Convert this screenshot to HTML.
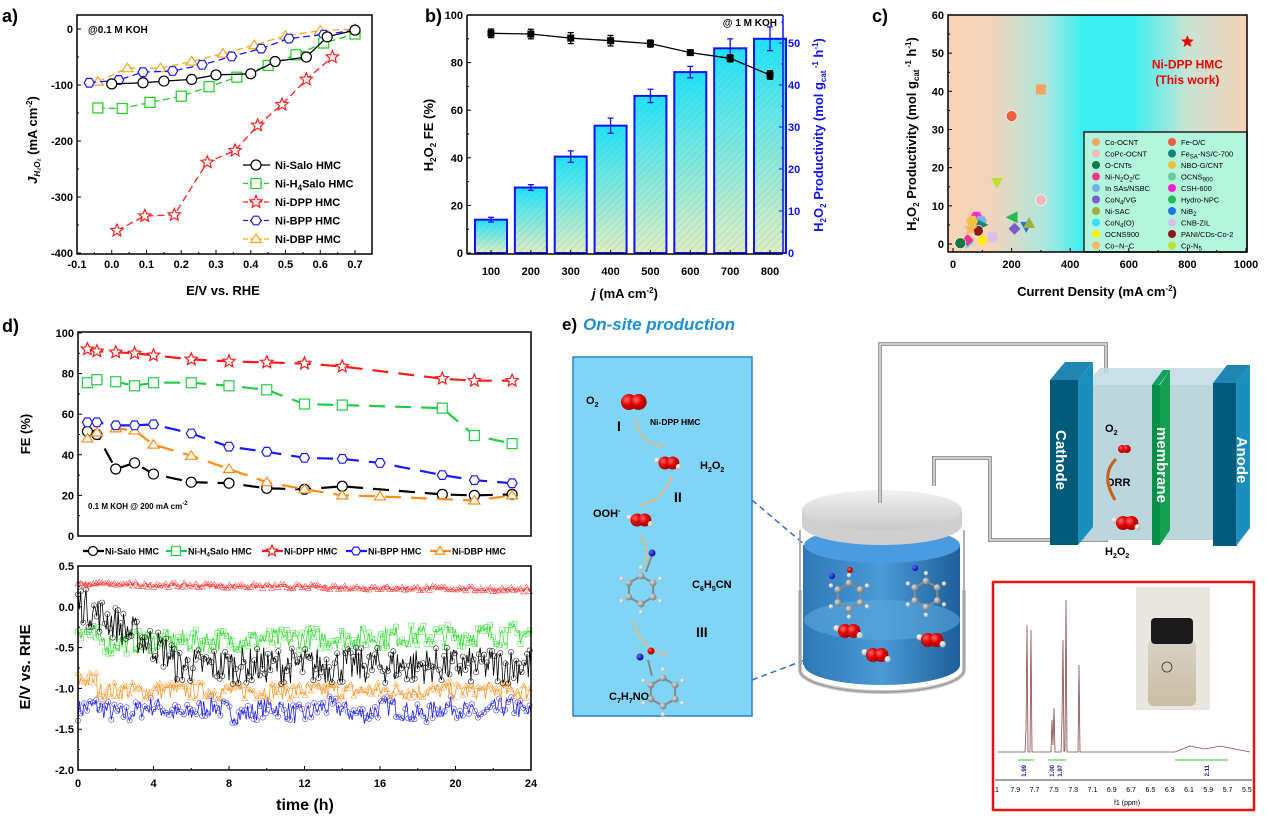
<!DOCTYPE html>
<html><head><meta charset="utf-8"><style>
html,body{margin:0;padding:0;background:#fff}
svg{display:block;font-family:"Liberation Sans",Arial,sans-serif}
.t{font-weight:bold;font-size:11px}
.lab{font-weight:bold;font-size:13px}
.pl{font-weight:bold;font-size:18px}
</style></head><body>
<svg id="s" width="1269" height="818" viewBox="0 0 1269 818" xmlns="http://www.w3.org/2000/svg">
<defs>
<linearGradient id="bg" x1="0" y1="0" x2="0" y2="1"><stop offset="0" stop-color="#1fe3f7"/><stop offset="1" stop-color="#e0eec0"/></linearGradient>
<pattern id="hatch" width="5" height="5" patternUnits="userSpaceOnUse" patternTransform="rotate(45)"><line x1="0" y1="0" x2="0" y2="5" stroke="#5a8fd0" stroke-width="0.6" opacity="0.6"/></pattern>
<linearGradient id="cg" x1="0" y1="0" x2="1" y2="0"><stop offset="0" stop-color="#f7d2b6"/><stop offset="0.15" stop-color="#f2d4bc"/><stop offset="0.33" stop-color="#a8e8e0"/><stop offset="0.45" stop-color="#3cf0f2"/><stop offset="0.62" stop-color="#3cf0f2"/><stop offset="0.8" stop-color="#c8e4d4"/><stop offset="1" stop-color="#f7d2b6"/></linearGradient>
<radialGradient id="ox" cx="0.35" cy="0.35" r="0.7"><stop offset="0" stop-color="#ff6a6a"/><stop offset="0.5" stop-color="#e00000"/><stop offset="1" stop-color="#900"/></radialGradient>
<radialGradient id="hy" cx="0.35" cy="0.35" r="0.7"><stop offset="0" stop-color="#fff"/><stop offset="1" stop-color="#aaa"/></radialGradient>
<radialGradient id="cb" cx="0.35" cy="0.35" r="0.7"><stop offset="0" stop-color="#ddd"/><stop offset="1" stop-color="#777"/></radialGradient>
<radialGradient id="nb" cx="0.35" cy="0.35" r="0.7"><stop offset="0" stop-color="#66f"/><stop offset="1" stop-color="#009"/></radialGradient>
<linearGradient id="wat" x1="0" y1="0" x2="1" y2="0"><stop offset="0" stop-color="#2f78b8"/><stop offset="0.5" stop-color="#4a9ad6"/><stop offset="1" stop-color="#1d5f9a"/></linearGradient>
<linearGradient id="lid" x1="0" y1="0" x2="0" y2="1"><stop offset="0" stop-color="#f2f2f2"/><stop offset="1" stop-color="#c8c8c8"/></linearGradient>
<linearGradient id="vial" x1="0" y1="0" x2="0" y2="1"><stop offset="0" stop-color="#d8d2c6"/><stop offset="1" stop-color="#c9bda2"/></linearGradient>
</defs>
<g id="root"></g>
</svg>
<script>
var S='';
function a(x){S+=x;}
function T(x,y,txt,o){o=o||{};a('<text x="'+x+'" y="'+y+'"'+(o.a?' text-anchor="'+o.a+'"':'')+(o.c?' class="'+o.c+'"':' class="t"')+(o.f?' fill="'+o.f+'"':'')+(o.s?' style="'+o.s+'"':'')+(o.r?' transform="rotate('+o.r+' '+x+' '+y+')"':'')+'>'+txt+'</text>');}
function L(x1,y1,x2,y2,c,w,d){a('<line x1="'+x1+'" y1="'+y1+'" x2="'+x2+'" y2="'+y2+'" stroke="'+(c||'#000')+'" stroke-width="'+(w||1)+'"'+(d?' stroke-dasharray="'+d+'"':'')+'/>');}
function R(x,y,w,h,f,s,sw){a('<rect x="'+x+'" y="'+y+'" width="'+w+'" height="'+h+'" fill="'+(f||'none')+'" stroke="'+(s||'none')+'" stroke-width="'+(sw||1)+'"/>');}
function poly(pts,c,w,d,f){a('<polyline points="'+pts.map(function(p){return p[0].toFixed(1)+','+p[1].toFixed(1)}).join(' ')+'" fill="'+(f||'none')+'" stroke="'+c+'" stroke-width="'+(w||1)+'"'+(d?' stroke-dasharray="'+d+'"':'')+'/>');}
function star(x,y,r,c,f){var p=[];for(var i=0;i<10;i++){var rr=i%2?r*0.45:r,an=-Math.PI/2+i*Math.PI/5;p.push([x+rr*Math.cos(an),y+rr*Math.sin(an)]);}a('<polygon points="'+p.map(function(q){return q[0].toFixed(1)+','+q[1].toFixed(1)}).join(' ')+'" fill="'+(f||'#fff')+'" stroke="'+c+'" stroke-width="1.2"/>');}
function hex(x,y,r,c){var p=[];for(var i=0;i<6;i++){var an=i*Math.PI/3;p.push([x+r*Math.cos(an),y+r*Math.sin(an)]);}a('<polygon points="'+p.map(function(q){return q[0].toFixed(1)+','+q[1].toFixed(1)}).join(' ')+'" fill="#fff" stroke="'+c+'" stroke-width="1.2"/>');}
function tri(x,y,r,c,f){a('<polygon points="'+x+','+(y-r)+' '+(x+r*1.1)+','+(y+r*0.7)+' '+(x-r*1.1)+','+(y+r*0.7)+'" fill="'+(f||'#fff')+'" stroke="'+c+'" stroke-width="1.2"/>');}
function mk(type,x,y,r,c){if(type=='o')a('<circle cx="'+x+'" cy="'+y+'" r="'+r+'" fill="#fff" stroke="'+c+'" stroke-width="1.2"/>');else if(type=='s')R(x-r,y-r,2*r,2*r,'#fff',c,1.2);else if(type=='*')star(x,y,r*1.3,c);else if(type=='h')hex(x,y,r,c);else tri(x,y,r,c);}
var SER=[['o','#000','6,3'],['s','#22cc22','6,3'],['*','#ff2020','6,3'],['h','#1a1aff','6,3'],['t','#f5a623','6,3']];

/* ===== Panel a ===== */
function ax(E){return 77+(E+0.1)*347.5;} function ay(J){return 29-J*0.56;}
var A=[
[[0,-98],[0.09,-96],[0.15,-93],[0.23,-90],[0.30,-82],[0.40,-80],[0.47,-58],[0.56,-50],[0.62,-14],[0.70,-2]],
[[-0.04,-141],[0.03,-142],[0.11,-131],[0.20,-120],[0.28,-103],[0.36,-86],[0.45,-65],[0.53,-46],[0.61,-25],[0.70,-9]],
[[0.015,-360],[0.095,-334],[0.18,-332],[0.275,-238],[0.355,-217],[0.42,-172],[0.49,-135],[0.56,-90],[0.635,-50]],
[[-0.065,-96],[0.02,-91],[0.09,-77],[0.175,-75],[0.26,-64],[0.345,-49],[0.43,-35],[0.51,-17],[0.61,-10],[0.70,-2]],
[[-0.04,-94],[0.045,-70],[0.14,-70],[0.23,-58],[0.32,-44],[0.41,-29],[0.50,-12],[0.60,-3],[0.70,0]]];
[4,3,1,0,2].forEach(function(k){var pts=A[k].map(function(p){return [ax(p[0]),ay(p[1])]});poly(pts,SER[k][1],1.3,k==0?null:'7,4');pts.forEach(function(p){mk(SER[k][0],p[0],p[1],5,SER[k][1]);});});
R(77,15,295,239,'none','#000',1.5);
for(var i=0;i<=8;i++){var x=ax(-0.1+i*0.1);L(x,254,x,250);T(x,268,(i==1?'0.0':(-0.1+i*0.1).toFixed(1)),{a:'middle'});if(i<8)L(x+17.4,254,x+17.4,252);}
for(var v=0;v>=-400;v-=100){var y=ay(v);L(77,y,81,y);T(73,y+4,v,{a:'end'});if(v>-400)L(77,y+28,79,y+28);}
T(223,295,'E/V vs. RHE',{a:'middle',c:'lab'});
a('<text transform="translate(37,140) rotate(-90)" text-anchor="middle" class="lab"><tspan font-style="italic">J</tspan><tspan font-size="8" dy="3" font-style="italic">H₂O₂</tspan><tspan dy="-3"> (mA cm</tspan><tspan font-size="8" dy="-5">-2</tspan><tspan dy="5">)</tspan></text>');
T(88,33,'@0.1 M KOH',{s:'font-size:10px'});
var la=['Ni-Salo HMC','Ni-H<tspan font-size="8" dy="3">4</tspan><tspan dy="-3">Salo HMC</tspan>','Ni-DPP HMC','Ni-BPP HMC','Ni-DBP HMC'];
for(var k=0;k<5;k++){var y=165+k*18.5;L(243,y,270,y,SER[k][1],1.3,k?'5,2':null);mk(SER[k][0],256,y,5,SER[k][1]);T(275,y+4,la[k]);}
T(2,22,'a)',{c:'pl'});

/* ===== Panel b ===== */
function bx(j){return 491+(j-100)*0.3986;} function by(f){return 253-f*2.38;}
var bars=[14,27.5,40.5,53.5,66,76,86,90],be=[0.5,0.6,1.2,1.6,1.4,1.2,2,2.5];
var fe=[92.3,92,90.3,89.2,88,84.2,81.8,74.8],fee=[1.8,2,2.3,2.2,1.5,1,1.5,1.8];
for(var i=0;i<8;i++){var x=bx(100+i*100),y=by(bars[i]);a('<rect x="'+(x-16)+'" y="'+y+'" width="32" height="'+(253-y)+'" fill="url(#bg)" stroke="#1010ff" stroke-width="2"/>');a('<rect x="'+(x-15)+'" y="'+y+'" width="30" height="'+(253-y)+'" fill="url(#hatch)"/>');var e=be[i]*2.38*2;L(x,y-e,x,y+e,'#1010ff',1.3);L(x-3,y-e,x+3,y-e,'#1010ff',1.3);L(x-3,y+e,x+3,y+e,'#1010ff',1.3);}
poly(fe.map(function(f,i){return [bx(100+i*100),by(f)]}),'#000',1.3);
for(var i=0;i<8;i++){var x=bx(100+i*100),y=by(fe[i]),e=fee[i]*2.38;L(x,y-e,x,y+e,'#000',1.3);L(x-3,y-e,x+3,y-e,'#000',1.3);L(x-3,y+e,x+3,y+e,'#000',1.3);R(x-3.5,y-3.5,7,7,'#000');}
L(467,15,467,254,'#000',1.5);L(467,254,783,254,'#000',1.5);L(467,15,783,15,'#000',1.5);L(783,15,783,254,'#1010ff',1.5);
for(var f=0;f<=100;f+=20){var y=by(f);L(467,y,471,y);T(463,y+4,f,{a:'end'});if(f<100)L(467,y-23.8,469,y-23.8);}
for(var i=0;i<8;i++){var x=bx(100+i*100);L(x,254,x,250);T(x,275,100+i*100,{a:'middle'});}
for(var p=0;p<=50;p+=10){var y=253-p*4.2;L(783,y,779,y,'#1010ff');T(788,y+4,p,{f:'#1010ff'});if(p<55)L(783,y-21,781,y-21,'#1010ff');}
T(625,298,'<tspan font-style="italic">j</tspan> (mA cm<tspan font-size="8" dy="-5">-2</tspan><tspan dy="5">)</tspan>',{a:'middle',c:'lab'});
a('<text transform="translate(433,135) rotate(-90)" text-anchor="middle" class="lab">H<tspan font-size="8" dy="3">2</tspan><tspan dy="-3">O</tspan><tspan font-size="8" dy="3">2</tspan><tspan dy="-3"> FE (%)</tspan></text>');
a('<text transform="translate(823,135) rotate(-90)" text-anchor="middle" class="lab" fill="#1010ff">H<tspan font-size="8" dy="3">2</tspan><tspan dy="-3">O</tspan><tspan font-size="8" dy="3">2</tspan><tspan dy="-3"> Productivity (mol g</tspan><tspan font-size="8" dy="3">cat</tspan><tspan font-size="8" dy="-8"> -1</tspan><tspan dy="5"> h</tspan><tspan font-size="8" dy="-5">-1</tspan><tspan dy="5">)</tspan></text>');
T(777,26,'@ 1 M KOH',{a:'end',s:'font-size:10px'});
T(425,22,'b)',{c:'pl'});

/* ===== Panel c ===== */
function cx(v){return 953+v*0.293;} function cy(p){return 244-p*3.817;}
R(948,15,299,237,'url(#cg)');
R(1084,132,163,120,'#b2f5dc','#222',1.5);
var cp=[[300,40.5,'#f4a460','s'],[200,33.5,'#e8603c','o'],[300,11.5,'#f3b8b8','o'],[150,16,'#bde032','v'],[80,7,'#ff1fd0','h'],[95,6,'#7ab0e6','h'],[200,7,'#22bb55','<'],[210,4,'#7b5cc8','d'],[250,4.5,'#2277dd','v'],[260,5.5,'#a0b040','t'],[100,5,'#118877','>'],[85,3.5,'#8b1a1a','o'],[135,1.8,'#d8c0e8','h'],[100,1,'#ffee00','d'],[50,0.5,'#33e0ff','d'],[50,1,'#ff3388','d'],[25,0.2,'#117744','o'],[60,4,'#f4b860','*'],[65,6,'#f0c040','h']];
cp.forEach(function(p){var x=cx(p[0]),y=cy(p[1]),c=p[2];if(p[3]=='s')R(x-5,y-5,10,10,c);else if(p[3]=='o')a('<circle cx="'+x+'" cy="'+y+'" r="5.5" fill="'+c+'" stroke="#fff" stroke-width="0.6"/>');else if(p[3]=='v')a('<polygon points="'+(x-6)+','+(y-5)+' '+(x+6)+','+(y-5)+' '+x+','+(y+6)+'" fill="'+c+'"/>');else if(p[3]=='t')a('<polygon points="'+(x-6)+','+(y+5)+' '+(x+6)+','+(y+5)+' '+x+','+(y-6)+'" fill="'+c+'"/>');else if(p[3]=='<')a('<polygon points="'+(x+6)+','+(y-6)+' '+(x+6)+','+(y+6)+' '+(x-6)+','+y+'" fill="'+c+'"/>');else if(p[3]=='>')a('<polygon points="'+(x-6)+','+(y-6)+' '+(x-6)+','+(y+6)+' '+(x+6)+','+y+'" fill="'+c+'"/>');else if(p[3]=='d')a('<polygon points="'+x+','+(y-6)+' '+(x+6)+','+y+' '+x+','+(y+6)+' '+(x-6)+','+y+'" fill="'+c+'"/>');else if(p[3]=='h')hex(x,y,5.5,c),a('<circle cx="'+x+'" cy="'+y+'" r="4.5" fill="'+c+'"/>');else star(x,y,6,c,c);});
star(cx(800),cy(53),5,'#e00','#e00');
T(cx(800),cy(47)+4,'Ni-DPP HMC',{a:'middle',f:'#e00',s:'font-size:12px'});T(cx(800),cy(43)+4,'(This work)',{a:'middle',f:'#e00',s:'font-size:12px'});
var lc=[['Co-OCNT','#f4a460'],['Fe-O/C','#e8603c'],['CoPc-OCNT','#f3b8b8'],['Fe<tspan font-size="6" dy="2">SA</tspan><tspan dy="-2">-NS/C-700</tspan>','#118877'],['O-CNTs','#117744'],['NBO-G/CNT','#f0c040'],['Ni-N<tspan font-size="6" dy="2">2</tspan><tspan dy="-2">O</tspan><tspan font-size="6" dy="2">2</tspan><tspan dy="-2">/C</tspan>','#ff3388'],['OCNS<tspan font-size="6" dy="2">900</tspan>','#66cc99'],['In SAs/NSBC','#7ab0e6'],['CSH-600','#ff1fd0'],['CoN<tspan font-size="6" dy="2">4</tspan><tspan dy="-2">/VG</tspan>','#7b5cc8'],['Hydro-NPC','#22bb55'],['Ni-SAC','#a0b040'],['NiB<tspan font-size="6" dy="2">2</tspan>','#2277dd'],['CoN<tspan font-size="6" dy="2">4</tspan><tspan dy="-2">(O)</tspan>','#33e0ff'],['CNB-ZIL','#d8c0e8'],['OCNS900','#ffee00'],['PANI/CDs-Co-2','#8b1a1a'],['Co−N−C','#f4b860'],['Co-N<tspan font-size="6" dy="2">5</tspan>','#bde032']];
lc.forEach(function(l,i){var col=i%2,row=Math.floor(i/2),x=1096+col*76,y=142+row*11.5;a('<circle cx="'+x+'" cy="'+y+'" r="4" fill="'+l[1]+'"/>');T(x+9,y+3,l[0],{s:'font-size:7.5px;font-weight:normal'});});
R(948,15,299,237,'none','#000',1.5);
for(var p=0;p<=60;p+=10){var y=cy(p);L(948,y,952,y);T(944,y+4,p,{a:'end'});if(p<60)L(948,y-19,950,y-19);}
for(var v=0;v<=1000;v+=200){var x=cx(v);L(x,252,x,248);T(x,268,v,{a:'middle'});if(v<1000)L(x+29.3,252,x+29.3,250);}
T(1097,296,'Current Density (mA cm<tspan font-size="8" dy="-5">-2</tspan><tspan dy="5">)</tspan>',{a:'middle',c:'lab'});
a('<text transform="translate(916,134) rotate(-90)" text-anchor="middle" class="lab">H<tspan font-size="8" dy="3">2</tspan><tspan dy="-3">O</tspan><tspan font-size="8" dy="3">2</tspan><tspan dy="-3"> Productivity (mol g</tspan><tspan font-size="8" dy="3">cat</tspan><tspan font-size="8" dy="-8"> -1</tspan><tspan dy="5"> h</tspan><tspan font-size="8" dy="-5">-1</tspan><tspan dy="5">)</tspan></text>');
T(872,22,'c)',{c:'pl'});

/* ===== Panel d ===== */
function dx(t){return 78+t*18.875;} function dy1(f){return 536-f*2.03;} function dy2(E){return 566+(0.5-E)*81.6;}
var D=[
[[.5,51.5],[1,50],[2,33],[3,36],[4,30.5],[6,26.5],[8,26],[10,23.5],[12,23],[14,24.5],[19.3,20.5],[21,20],[23,20.5]],
[[.5,75.5],[1,77],[2,76],[3,74],[4,75.5],[6,75.5],[8,74],[10,72],[12,65],[14,64.5],[19.3,63],[21,49.5],[23,45.5]],
[[.5,92],[1,91],[2,90.5],[3,90],[4,89],[6,87],[8,86],[10,85.5],[12,85],[14,83.5],[19.3,77.5],[21,76.5],[23,76.5]],
[[.5,56],[1,56],[2,54.5],[3,54.5],[4,55],[6,50.5],[8,44],[10,41.5],[12,38.5],[14,38],[16,36],[19.3,30],[21,27.5],[23,26]],
[[.5,48],[1,51],[2,53],[3,52],[4,45],[6,39.5],[8,33],[10,26.5],[12,23],[14,20],[16,19.5],[21,17.5],[23,20]]];
var dc=['#000','#22cc44','#ff1a1a','#1a1aff','#ff8c1a'];
[0,4,3,1,2].forEach(function(k){var pts=D[k].map(function(p){return [dx(p[0]),dy1(p[1])]});poly(pts,dc[k],2.2,'16,10');pts.forEach(function(p){mk(SER[k][0],p[0],p[1],5,dc[k]);});});
R(78,332,453,204,'none','#000',1.5);
for(var f=0;f<=100;f+=20){var y=dy1(f);L(78,y,82,y);T(74,y+4,f,{a:'end'});if(f<100)L(78,y-20.3,80,y-20.3);}
T(88,509,'0.1 M KOH @ 200 mA cm<tspan font-size="6" dy="-4">-2</tspan>',{s:'font-size:8px'});
a('<text transform="translate(30,434) rotate(-90)" text-anchor="middle" class="lab" style="font-size:13px">FE (%)</text>');
var ld=['Ni-Salo HMC','Ni-H<tspan font-size="6" dy="2">4</tspan><tspan dy="-2">Salo HMC</tspan>','Ni-DPP HMC','Ni-BPP HMC','Ni-DBP HMC'],lx=[83,166,262,346,430];
for(var k=0;k<5;k++){var y=551;L(lx[k],y,lx[k]+21,y,dc[k],2.2);mk(SER[k][0],lx[k]+10,y,4.5,dc[k]);T(lx[k]+22,y+3.5,ld[k],{s:'font-size:9px'});}
var seed=7;function rnd(){seed=(seed*16807)%2147483647;return seed/2147483647;}
function noisy(fn,amp,n,c,m){var pts=[];for(var i=0;i<n;i++){var t=i*24/(n-1);pts.push([dx(t),dy2(fn(t)+(rnd()-0.5)*amp)]);}
poly(pts,c,0.8);var s='';pts.forEach(function(p,i){if(i%2==0){if(m=='o')s+='<circle cx="'+p[0].toFixed(1)+'" cy="'+p[1].toFixed(1)+'" r="2.6"/>';else if(m=='s')s+='<rect x="'+(p[0]-2.5).toFixed(1)+'" y="'+(p[1]-2.5).toFixed(1)+'" width="5" height="5"/>';else s+='<polygon points="'+p[0].toFixed(1)+','+(p[1]-3).toFixed(1)+' '+(p[0]+3).toFixed(1)+','+(p[1]+2).toFixed(1)+' '+(p[0]-3).toFixed(1)+','+(p[1]+2).toFixed(1)+'"/>';}});a('<g fill="none" stroke="'+c+'" stroke-width="0.6" opacity="0.85">'+s+'</g>');}
noisy(function(t){return -1.27+0.05*Math.sin(t*2);},0.25,300,'#2222ee','o');
noisy(function(t){return t<1?-0.9:-1.03;},0.22,300,'#ff9a30','t');
noisy(function(t){return t<2?-0.25-t*0.12:-0.45+0.005*t;},0.28,300,'#33dd33','s');
noisy(function(t){return t<5?0.05-t*0.13:-0.72;},0.45,340,'#000','o');
noisy(function(t){return 0.28-t*0.003;},0.06,300,'#ff3030','t');
R(78,566,453,204,'none','#000',1.5);
for(var e=0.5;e>=-2.0;e-=0.5){var y=dy2(e);L(78,y,82,y);T(74,y+4,(e==0?'0.0':e.toFixed(1)),{a:'end'});if(e>-2)L(78,y+20.4,80,y+20.4);}
for(var t=0;t<=24;t+=4){var x=dx(t);L(x,770,x,766);T(x,787,t,{a:'middle'});if(t<24)L(x+37.75,770,x+37.75,768);}
T(305,810,'time (h)',{a:'middle',s:'font-size:16px;font-weight:bold'});
a('<text transform="translate(30,667) rotate(-90)" text-anchor="middle" class="lab" style="font-size:15px">E/V vs. RHE</text>');
T(2,332,'d)',{c:'pl'});

/* ===== Panel e ===== */
T(562,330,'e)',{c:'pl',s:'font-size:17px'});
T(583,330,'On-site production',{s:'font-size:17px;font-weight:bold;font-style:italic',f:'#1a8fd8'});
R(573,357,179,359,'#80d4f5','#2a7fd0',1.5);
function ball(x,y,r,g){a('<circle cx="'+x+'" cy="'+y+'" r="'+r+'" fill="url(#'+g+')"/>');}
function o2(x,y,r,h){if(h){ball(x-r*1.2,y-r*0.4,r*0.45,'hy');}ball(x,y,r,'ox');ball(x+r*1.2,y,r,'ox');if(h)ball(x+r*2.1,y+r*0.6,r*0.45,'hy');}
o2(629,402,8);o2(665,463,6.5,1);o2(637,520,6.5,1);
T(586,404,'O<tspan font-size="7" dy="3">2</tspan>',{s:'font-size:11px'});T(617,431,'I',{s:'font-size:14px'});
T(650,425,'Ni-DPP HMC',{s:'font-size:8.5px'});T(700,469,'H<tspan font-size="7" dy="3">2</tspan><tspan dy="-3">O</tspan><tspan font-size="7" dy="3">2</tspan>',{s:'font-size:11px'});
T(674,502,'II',{s:'font-size:14px'});T(593,517,'OOH<tspan font-size="7" dy="-4">-</tspan>',{s:'font-size:11px'});
T(692,588,'C<tspan font-size="7" dy="3">6</tspan><tspan dy="-3">H</tspan><tspan font-size="7" dy="3">5</tspan><tspan dy="-3">CN</tspan>',{s:'font-size:11px'});
T(696,637,'III',{s:'font-size:14px'});T(609,700,'C<tspan font-size="7" dy="3">7</tspan><tspan dy="-3">H</tspan><tspan font-size="7" dy="3">7</tspan><tspan dy="-3">NO</tspan>',{s:'font-size:11px'});
a('<g fill="none" stroke="#f2b07a" stroke-width="1.5"><path d="M635 418 Q640 445 665 446"/><path d="M672 475 Q665 500 640 505"/><path d="M641 535 Q650 550 645 565"/><path d="M633 620 Q640 650 668 655"/></g>');
function benz(x,y,r){for(var i=0;i<6;i++){var an=i*Math.PI/3+Math.PI/6;var x1=x+r*Math.cos(an),y1=y+r*Math.sin(an),an2=an+Math.PI/3;L(x1,y1,x+r*Math.cos(an2),y+r*Math.sin(an2),'#888',2);}for(var i=0;i<6;i++){var an=i*Math.PI/3+Math.PI/6;ball(x+r*1.6*Math.cos(an),y+r*1.6*Math.sin(an),2.2,'hy');ball(x+r*Math.cos(an),y+r*Math.sin(an),3.4,'cb');}}
benz(641,590,14);L(646,572,652,555,'#888',2);ball(652,553,3.5,'nb');benz(663,692,14);L(652,676,648,660,'#888',2);ball(640,657,3.5,'nb');ball(651,651,3.5,'ox');
a('<g stroke="#3a6fd0" stroke-width="1.5" stroke-dasharray="6,4"><line x1="752" y1="500" x2="805" y2="545"/><line x1="752" y1="680" x2="805" y2="660"/></g>');
R(803,545,157,120,'url(#wat)');a('<ellipse cx="882" cy="620" rx="78" ry="20" fill="#5aa8e0" opacity="0.6"/>');
a('<ellipse cx="882" cy="665" rx="78" ry="20" fill="url(#wat)"/>');a('<ellipse cx="882" cy="545" rx="78" ry="18" fill="#4a9be0"/>');
a('<path d="M800 590 L800 670 A82 22 0 0 0 964 670 L964 590" fill="none" stroke="#bbb" stroke-width="4" opacity="0.8"/>');
a('<path d="M800 530 L800 670 A82 22 0 0 0 964 670 L964 530" fill="none" stroke="#999" stroke-width="1.5"/>');
a('<path d="M802 510 L802 525 A80 20 0 0 0 962 525 L962 510 Z" fill="#cfcfcf"/>');a('<ellipse cx="882" cy="510" rx="80" ry="20" fill="url(#lid)"/>');
benz(849,596,13);ball(832,576,3,'nb');ball(850,570,3,'ox');benz(926,594,13);ball(915,568,3,'nb');
o2(845,631,7,1);o2(873,655,7,1);o2(928,640,7,1);
a('<g fill="none" stroke="#9a9a9a" stroke-width="4"><path d="M880 503 L880 344 L1106 344 L1106 373"/><path d="M934 486 L934 458 L990 458 L990 540 L1106 540 L1106 520"/></g>');
a('<g fill="none" stroke="#dcdcdc" stroke-width="1.5"><path d="M880 503 L880 344 L1106 344 L1106 373"/><path d="M934 486 L934 458 L990 458 L990 540 L1106 540 L1106 520"/></g>');
a('<polygon points="1085,385 1235,385 1250,368 1100,368" fill="#bcd8e0" opacity="0.8"/>');R(1085,385,150,155,'#bcd6dd');
a('<polygon points="1050,380 1065,362 1093,362 1078,380" fill="#1f86b3"/>');R(1050,380,28,165,'#005a7a');a('<polygon points="1078,380 1093,362 1093,527 1078,545" fill="#1a8fbf"/>');
a('<polygon points="1152,385 1163,370 1170,370 1159,385" fill="#13a060"/>');R(1152,385,8,160,'#079045');a('<polygon points="1160,385 1170,370 1170,530 1160,545" fill="#14a050"/>');
a('<polygon points="1213,383 1227,365 1250,365 1236,383" fill="#1f86b3"/>');R(1213,383,24,163,'#005a7a');a('<polygon points="1236,383 1250,365 1250,528 1236,546" fill="#1a8fbf"/>');
a('<text transform="translate(1056,460) rotate(90)" text-anchor="middle" class="lab" fill="#fff" style="font-size:15px">Cathode</text>');
a('<text transform="translate(1157,465) rotate(90)" text-anchor="middle" class="lab" fill="#fff" style="font-size:15px">membrane</text>');
a('<text transform="translate(1237,460) rotate(90)" text-anchor="middle" class="lab" fill="#fff" style="font-size:15px">Anode</text>');
T(1105,432,'O<tspan font-size="7" dy="3">2</tspan>',{s:'font-size:11px'});o2(1122,449,4);T(1106,486,'ORR',{s:'font-size:11px'});
a('<path d="M1116 459 Q1100 475 1115 500" fill="none" stroke="#c8601a" stroke-width="3"/>');o2(1123,523,7,1);
T(1105,555,'H<tspan font-size="7" dy="3">2</tspan><tspan dy="-3">O</tspan><tspan font-size="7" dy="3">2</tspan>',{s:'font-size:11px'});
R(993,582,261,228,'#fff','#ee1111',2.5);
a('<polyline points="998,752 1025,752 1026,730 1027,625 1028,752 1030,752 1031,630 1032,752 1051,752 1052,720 1053,745 1054,708 1055,752 1061,752 1062,720 1063,640 1064,752 1065,750 1066,600 1067,752 1078,752 1079,665 1080,752 1175,752 1190,746 1205,749 1220,746 1250,752" fill="none" stroke="#8b4a4a" stroke-width="0.8"/>');
a('<g stroke="#33cc33" stroke-width="1"><line x1="1018" y1="760" x2="1034" y2="760"/><line x1="1048" y1="760" x2="1066" y2="760"/><line x1="1175" y1="760" x2="1228" y2="760"/></g>');
a('<g font-size="6" fill="#1a1a8a" font-weight="bold"><text transform="translate(1026,765) rotate(-90)" text-anchor="end">1.99</text><text transform="translate(1054,765) rotate(-90)" text-anchor="end">1.00</text><text transform="translate(1062,765) rotate(-90)" text-anchor="end">1.97</text><text transform="translate(1209,765) rotate(-90)" text-anchor="end">2.11</text></g>');
L(995,780,1252,780,'#000',0.8);
var nl=['.1','7.9','7.7','7.5','7.3','7.1','6.9','6.7','6.5','6.3','6.1','5.9','5.7','5.5'];nl.forEach(function(s,i){T(996+i*19.3,792,s,{a:'middle',s:'font-size:7px;font-weight:normal'});});
T(1127,805,'f1 (ppm)',{a:'middle',s:'font-size:7px;font-weight:normal'});
R(1136,587,74,123,'#e9e6e0');a('<rect x="1148" y="640" width="48" height="66" rx="6" fill="url(#vial)"/>');a('<rect x="1151" y="618" width="42" height="26" rx="4" fill="#1a1a1a"/>');
a('<circle cx="1167" cy="667" r="5" fill="none" stroke="#333" stroke-width="0.8"/>');
document.getElementById('root').innerHTML=S;
</script>
</body></html>
